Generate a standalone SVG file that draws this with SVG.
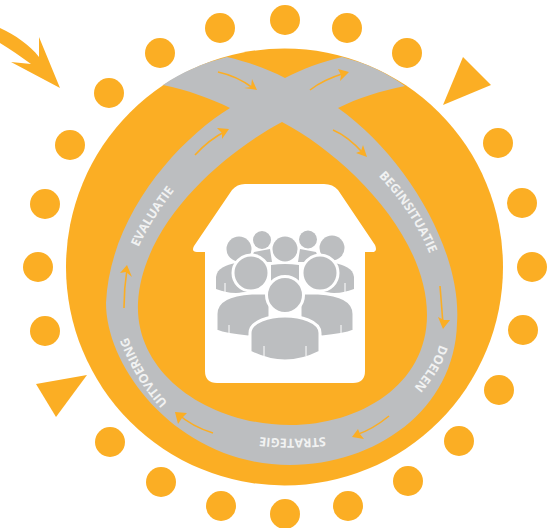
<svg xmlns="http://www.w3.org/2000/svg" width="558" height="528" viewBox="0 0 558 528">
<style>
.o{fill:#fbae24}
.g{fill:#bcbec0}
.p{fill:#bcbec0;stroke:#fff;stroke-width:3}
.s{fill:none;stroke:#fff;stroke-width:1}
.l{fill:none;stroke:#fbae24;stroke-width:1.6}
.t{font-family:"Open Sans","Liberation Sans",sans-serif;font-weight:700;font-size:12.5px;fill:#f1f2f2}
</style>
<defs>
<path id="pe" d="M133,262 C142,235 157,212 184,178"/>
<path id="pb" d="M366,164 C395,190 420,225 436,270"/>
<path id="pd" d="M444,325 C440,355 425,378 400,402"/>
<path id="ps" d="M350,432 C320,441 265,441 235,432"/>
<path id="pu" d="M192,424 C172,410 136,376 118,306"/>
</defs>
<g id="background">
<circle class="o" cx="284.500" cy="267" r="218.500"/>
<path class="g" fill-rule="evenodd" d="M163,85 C187,90 210,98 230,108 C178,140 110,215 106,303 C106,370 180,465 290,465 C375,465 455,410 457,323 C462,250 405,155 338,108 C358,98 380,91 405,86 C386,72 365,63 342,57 C321,62 302,69 285,78 C268,69 248,62 227,57 C203,63 182,72 163,85 Z M282,122 C220,155 142,225 138,303 C135,375 210,425 290,425 C360,425 427,385 427,315 C427,235 345,155 282,122 Z"/>
</g>
<g id="connectors">
<path class="l" d="M218,72 C232,75 245,82 253,88"/>
<path class="o" d="M257,90 L252,79 L251,87 L244,88 Z"/>
<path class="l" d="M310,90 C320,82 332,77 345,73"/>
<path class="o" d="M349,72 L338,69 L341,75 L340,81 Z"/>
<path class="l" d="M195,155 C204,145 214,137 226,131"/>
<path class="o" d="M229,129 L217,128 L222,133 L222,139 Z"/>
<path class="l" d="M333,130 C345,135 355,144 364,154"/>
<path class="o" d="M367,157 L363,145 L361,151 L356,153 Z"/>
<path class="l" d="M440,286 C441,298 442,310 443,325"/>
<path class="o" d="M443,329 L438,317 L444,320 L450,320 Z"/>
<path class="l" d="M389,416 C378,425 368,431 356,435"/>
<path class="o" d="M352,437 L364,439 L360,434 L358,429 Z"/>
<path class="l" d="M213,433 C200,429 188,423 178,414"/>
<path class="o" d="M175,412 L187,413 L182,418 L178,424 Z"/>
<path class="l" d="M124,308 C124,295 125,282 127,269"/>
<path class="o" d="M127,265 L120,273 L126,272 L132,277 Z"/>
<path class="o" d="M0,28 C15,35 30,45 39,57 L39,37 L60,88 L11,62 L31,64 C20,56 10,49 0,43 Z"/>
</g>
<g id="labels">
<text class="t"><textPath href="#pe" startOffset="50%" text-anchor="middle">EVALUATIE</textPath></text>
<text class="t"><textPath href="#pb" startOffset="50%" text-anchor="middle">BEGINSITUATIE</textPath></text>
<text class="t"><textPath href="#pd" startOffset="50%" text-anchor="middle">DOELEN</textPath></text>
<text class="t"><textPath href="#ps" startOffset="50%" text-anchor="middle">STRATEGIE</textPath></text>
<text class="t"><textPath href="#pu" startOffset="50%" text-anchor="middle">UITVOERING</textPath></text>
</g>
<g id="house">
<path fill="#fff" d="M245,184 H324 Q333,184 338,190 L375,245 Q378,252 372,252 H365 V371 Q365,383 353,383 H217 Q205,383 205,371 V252 H197 Q191,252 194,246 L232,190 Q237,184 245,184 Z"/>
</g>
<g id="people">
<path class="g" d="M254,252 L270,249 L272,262 L250,262 Z M316,252 L300,249 L298,262 L320,262 Z"/>
<path class="g" d="M271,265 Q285,263 299,265 L299,300 H271 Z"/>
<circle class="g" cx="262" cy="240" r="9"/>
<circle class="g" cx="308" cy="239.500" r="9"/>
<circle class="g" cx="239" cy="249" r="12.500"/>
<circle class="g" cx="285" cy="249" r="12.500"/>
<circle class="g" cx="332" cy="248" r="12.500"/>
<path class="g" d="M216,289 V277 C217,268 226,265 236,263 L250,292 L236,293 C228,293 222,291 216,289 Z"/>
<path class="g" d="M354,289 V277 C353,268 344,265 334,263 L320,292 L334,293 C342,293 348,291 354,289 Z"/>
<path class="s" d="M225,283 V292 M345,283 V292"/>
<path class="p" d="M216,331 V314 C216,299 234,294 252,293 H270 V332 L248,337 C236,336 226,335 216,331 Z"/>
<path class="p" d="M354,331 V314 C354,299 336,294 318,293 H300 V332 L322,337 C334,336 344,335 354,331 Z"/>
<path class="s" d="M229,325 V336 M341,325 V336"/>
<circle class="p" cx="251" cy="273" r="18"/>
<circle class="p" cx="320" cy="273" r="18"/>
<path class="p" d="M250,352 V333 C250,321 270,316 285,316 C300,316 320,321 320,333 V352 C310,357 298,361 285,361 C272,361 260,357 250,352 Z"/>
<path class="s" d="M264,346 V356 M306,346 V356"/>
<circle class="p" cx="285" cy="295" r="18.500"/>
</g>
<g id="markers">
<circle class="o" cx="285" cy="20" r="15"/>
<circle class="o" cx="347" cy="28" r="15"/>
<circle class="o" cx="407" cy="53" r="15"/>
<circle class="o" cx="498" cy="143" r="15"/>
<circle class="o" cx="522" cy="203" r="15"/>
<circle class="o" cx="532" cy="267" r="15"/>
<circle class="o" cx="523" cy="330" r="15"/>
<circle class="o" cx="499" cy="390" r="15"/>
<circle class="o" cx="459" cy="441" r="15"/>
<circle class="o" cx="408" cy="481" r="15"/>
<circle class="o" cx="348" cy="506" r="15"/>
<circle class="o" cx="285" cy="514" r="15"/>
<circle class="o" cx="221" cy="506" r="15"/>
<circle class="o" cx="161" cy="482" r="15"/>
<circle class="o" cx="110" cy="442" r="15"/>
<circle class="o" cx="45" cy="331" r="15"/>
<circle class="o" cx="38" cy="267" r="15"/>
<circle class="o" cx="45" cy="204" r="15"/>
<circle class="o" cx="70" cy="145" r="15"/>
<circle class="o" cx="109" cy="93" r="15"/>
<circle class="o" cx="160" cy="53" r="15"/>
<circle class="o" cx="220" cy="28" r="15"/>
<path class="o" d="M463,57 L491,85 L443,105 Z"/>
<path class="o" d="M36,384 L87,375 L56,417 Z"/>
</g>
</svg>
